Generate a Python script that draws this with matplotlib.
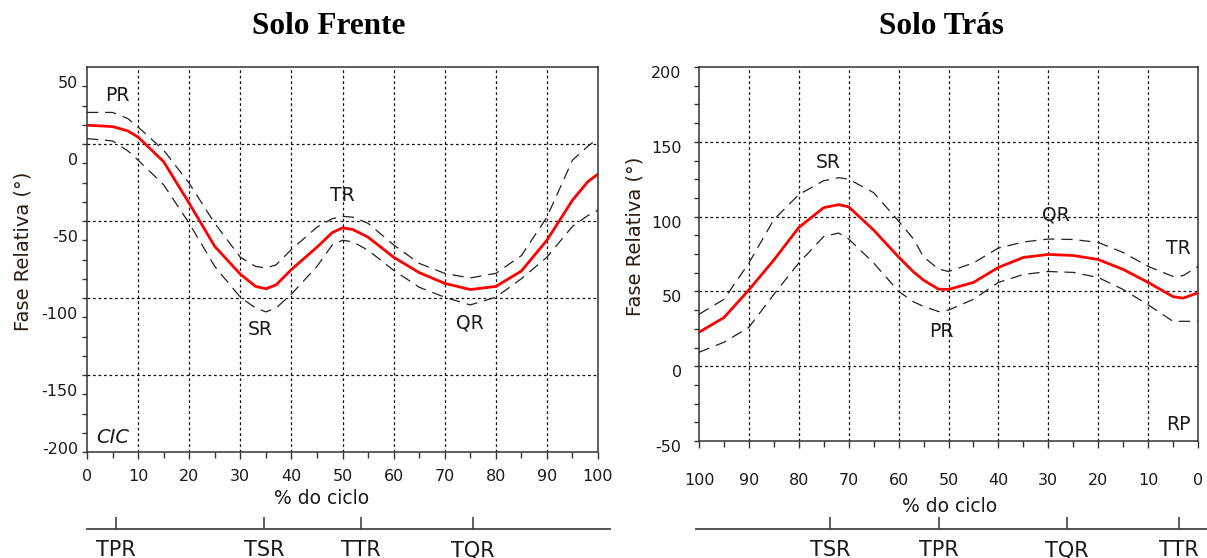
import numpy as np
import matplotlib
matplotlib.use("Agg")
import matplotlib.pyplot as plt
import matplotlib.transforms as mtransforms

# ---- data --------------------------------------------------------------
# Solo Frente (x = % do ciclo, 0 -> 100)
x_frente = [0, 5, 8, 10, 15, 20, 25, 30, 33, 35, 37, 40, 45, 48, 50, 52, 55,
            60, 65, 70, 75, 80, 85, 90, 95, 98, 100]
media_frente = [24.7, 23.8, 21, 17, 1, -26, -54, -72, -80, -81.5, -79, -69,
                -54.5, -45, -42, -43, -48, -61, -71, -78, -82, -80, -70, -50,
                -24, -12, -7]
sup_frente = [33, 33, 29, 23.5, 8.5, -13, -39, -61, -67, -68, -66, -56, -41.5,
              -36, -34.5, -35, -39, -53, -65, -71.5, -74.5, -71.5, -60, -35,
              2, 11, 16]
inf_frente = [16, 14.5, 8, 2, -14, -39, -67, -87, -94, -96.5, -94, -85, -67,
              -53, -50, -51, -56.5, -69.5, -80.5, -87, -92, -87, -75, -61,
              -41, -34, -30.5]

# Solo Tras (x axis reversed, 100 -> 0)
x_tras = [100, 95, 90, 85, 80, 75, 72, 70, 65, 60, 57, 55, 52, 50, 45, 40,
          35, 30, 25, 20, 15, 10, 5, 3, 0]
media_tras = [22.7, 32.5, 51, 71, 92.7, 106, 108, 106.5, 91, 73, 63, 57.5,
              51.5, 51.3, 56, 66, 72.7, 74.7, 74, 71.3, 64.7, 56, 46.5, 45.5,
              49]
sup_tras = [34.7, 44.7, 69, 98, 114.7, 124, 126, 125, 116, 97, 85, 73, 65,
            63.3, 69, 79, 83, 85, 84.7, 82.7, 76, 66.7, 60, 60.5, 66.7]
inf_tras = [9.3, 16, 26, 48, 69, 86.7, 89, 85, 69, 50, 43, 40, 36.5, 37.5,
            44.7, 56, 61.3, 63.3, 62.7, 59.3, 51.3, 41, 30, 30, 30]

# y ticks / labels
yticks_frente = [50, 0, -50, -100, -150, -187.5]
ylabels_frente = ["50", "0", "-50", "-100", "-150", "-200"]
ygrid_frente = [12.5, -37.5, -87.5, -137.5]
yticks_tras = [200, 150, 100, 50, 0, -50]
ygrid_tras = [150, 100, 50, 0]

# annotations (label, x, y)
rot_frente = [("PR", 6, 44), ("TR", 50, -21), ("SR", 34, -108), ("QR", 75, -104)]
rot_tras = [("SR", 74, 136), ("PR", 51.5, 23), ("QR", 28.5, 101),
            ("TR", 4, 79), ("RP", 4, -39)]

# event markers below each chart
ev_frente = ["TPR", "TSR", "TTR", "TQR"]
ev_frente_x = [5.7, 34.6, 53.6, 75.5]
ev_tras = ["TSR", "TPR", "TQR", "TTR"]
ev_tras_x = [73.7, 51.9, 26.3, 3.8]

# ---- styling -----------------------------------------------------------
W, H = 1207, 558
plt.rcParams['font.family'] = ['DejaVu Sans']
plt.rcParams['axes.unicode_minus'] = False
txt_col = '#1a1a1a'
grid_kw = dict(color='#111111', lw=0.9, ls=(0, (2.2, 2.2)), zorder=1)
dash_kw = dict(color='#222222', lw=0.9, ls=(0, (9, 5.5)), zorder=3)
red_kw = dict(color='#ff0000', lw=2.0, zorder=4, solid_joinstyle='round')

fig = plt.figure(figsize=(W / 100, H / 100), dpi=100)


def px_box(x0, y0, x1, y1):
    # pixel box (top-left origin) -> figure fraction rect
    return [x0 / W, 1 - y1 / H, (x1 - x0) / W, (y1 - y0) / H]


def base_axes(ax):
    for s in ax.spines.values():
        s.set_color('#333333')
        s.set_linewidth(1.1)
    ax.tick_params(which='both', direction='out', color='#333333',
                   labelsize=11.5, labelcolor=txt_col)
    ax.tick_params(which='major', length=5, width=1)
    ax.tick_params(which='minor', length=4, width=1)


def event_axes(rect, xlim, xs, labels):
    ev = fig.add_axes(rect)
    ev.set_xlim(*xlim)
    ev.patch.set_visible(False)
    for k in ['top', 'left', 'right']:
        ev.spines[k].set_visible(False)
    ev.spines['bottom'].set_color('#444444')
    ev.spines['bottom'].set_linewidth(1.3)
    ev.set_yticks([])
    ev.set_xticks(xs)
    ev.set_xticklabels(labels)
    ev.tick_params(axis='x', direction='in', length=9, width=1.2,
                   color='#444444', labelsize=15, labelcolor=txt_col, pad=8)
    return ev


# ================= Solo Frente =================
ax1 = fig.add_axes(px_box(87, 67, 598, 452))
ax1.set_xlim(0, 100)
ax1.set_ylim(-187.5, 62.5)
base_axes(ax1)
ax1.set_xticks(range(0, 101, 10))
ax1.set_xticks(range(5, 100, 10), minor=True)
ax1.set_yticks(yticks_frente)
ax1.set_yticklabels(ylabels_frente)
ax1.set_yticks(np.arange(-175, 62.5, 12.5), minor=True)
ax1.tick_params(axis='x', pad=7)
ax1.tick_params(axis='y', which='both', length=3.5, pad=3)
for xv in range(10, 100, 10):
    ax1.axvline(xv, **grid_kw)
for yv in ygrid_frente:
    ax1.axhline(yv, **grid_kw)

ax1.plot(x_frente, sup_frente, **dash_kw)
ax1.plot(x_frente, inf_frente, **dash_kw)
ax1.plot(x_frente, media_frente, **red_kw)

for lab, xv, yv in rot_frente:
    ax1.text(xv, yv, lab, fontsize=13.5, color=txt_col, ha='center', va='center')
ax1.text(5, -178, "CIC", fontsize=14, style='italic', color=txt_col,
         ha='center', va='center')

up = mtransforms.ScaledTranslation(0, 4 / 100, fig.dpi_scale_trans)
for lab in ax1.get_yticklabels():
    lab.set_transform(lab.get_transform() + up)

fig.text(23 / W, 1 - 251 / H, "Fase Relativa (°)", rotation=90, fontsize=14,
         color='#2a1a10', ha='center', va='center')
fig.text(322 / W, 1 - 499 / H, "% do ciclo", fontsize=13.5, color=txt_col,
         ha='center', va='center')
fig.text(329 / W, 1 - 26 / H, "Solo Frente", fontsize=22.5, fontweight='bold',
         family='Liberation Serif', ha='center', va='center')

event_axes(px_box(87, 500, 610, 529), (0, 100 * (610 - 87) / (598 - 87)),
           ev_frente_x, ev_frente)

# ================= Solo Tras =================
ax2 = fig.add_axes(px_box(699, 67, 1198, 441))
ax2.set_xlim(100, 0)
ax2.set_ylim(-50, 200)
base_axes(ax2)
ax2.set_xticks(range(0, 101, 10))
ax2.set_xticks(range(5, 100, 10), minor=True)
ax2.set_yticks(yticks_tras)
ax2.set_yticks(np.arange(-37.5, 200, 12.5), minor=True)
ax2.tick_params(axis='x', pad=18)
ax2.tick_params(axis='y', which='both', length=3.5, pad=9)
for xv in range(10, 100, 10):
    ax2.axvline(xv, **grid_kw)
for yv in ygrid_tras:
    ax2.axhline(yv, **grid_kw)

ax2.plot(x_tras, sup_tras, **dash_kw)
ax2.plot(x_tras, inf_tras, **dash_kw)
ax2.plot(x_tras, media_tras, **red_kw)

for lab, xv, yv in rot_tras:
    ax2.text(xv, yv, lab, fontsize=13.5, color=txt_col, ha='center', va='center')

down = mtransforms.ScaledTranslation(0, -5 / 100, fig.dpi_scale_trans)
for lab in ax2.get_yticklabels():
    lab.set_transform(lab.get_transform() + down)

fig.text(635 / W, 1 - 236 / H, "Fase Relativa (°)", rotation=90, fontsize=14,
         color='#2a1a10', ha='center', va='center')
fig.text(950 / W, 1 - 507 / H, "% do ciclo", fontsize=13.5, color=txt_col,
         ha='center', va='center')
fig.text(941 / W, 1 - 26 / H, "Solo Trás", fontsize=22.5, fontweight='bold',
         family='Liberation Serif', ha='center', va='center')

event_axes(px_box(696, 500, 1207, 529),
           (100 + (699 - 696) / 4.99, -(1207 - 1198) / 4.99),
           ev_tras_x, ev_tras)

fig.savefig("out.png", dpi=100)
